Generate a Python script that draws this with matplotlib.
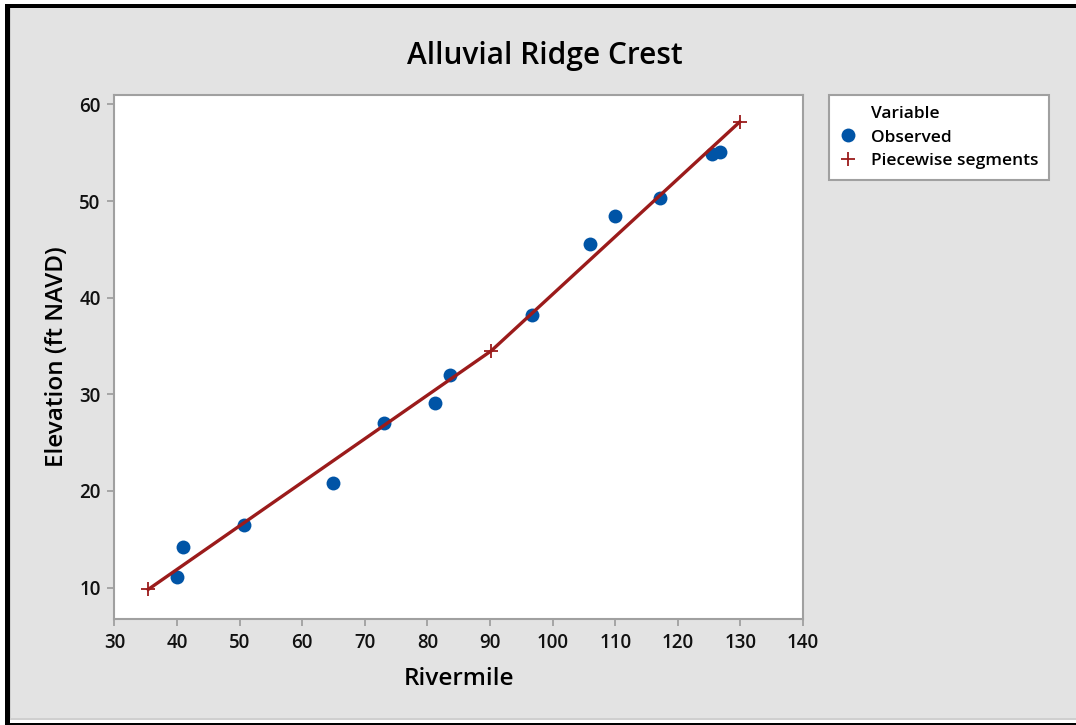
import matplotlib
matplotlib.use("Agg")
import matplotlib.pyplot as plt
from matplotlib.lines import Line2D
from matplotlib.patches import Rectangle

plt.rcParams['font.family'] = ['Open Sans', 'DejaVu Sans']

# observed ridge crest elevations
rivermile = [40.0, 40.9, 50.7, 64.9, 73.0, 81.2, 83.6, 96.7, 105.9, 110.0, 117.2, 125.5, 126.7]
elevation = [11.1, 14.2, 16.5, 20.8, 27.0, 29.1, 32.0, 38.2, 45.6, 48.5, 50.3, 54.9, 55.1]

# piecewise segment break points
seg_mile = [35.4, 90.2, 129.9]
seg_elev = [9.8, 34.5, 58.2]

xticks = [30, 40, 50, 60, 70, 80, 90, 100, 110, 120, 130, 140]
yticks = [10, 20, 30, 40, 50, 60]

W, H = 1076, 725
fig = plt.figure(figsize=(W / 100, H / 100), dpi=100, facecolor="white")


def px_rect(x0, y0, x1, y1, color):
    # rectangle given in image pixels (y down)
    r = Rectangle((x0 / W, 1 - y1 / H), (x1 - x0) / W, (y1 - y0) / H,
                  transform=fig.transFigure, facecolor=color, edgecolor="none", zorder=-10)
    fig.patches.append(r)


px_rect(5, 4, W, H, "black")
px_rect(10, 7.5, W, 722.5, "white")
px_rect(10, 7.5, W, 719.5, "#cfcfcf")
px_rect(11, 7.5, W, 717.5, "#e3e3e3")

ax = fig.add_axes([114.4 / W, 1 - 619 / H, (803 - 114.4) / W, (619 - 95) / H])
ax.set_facecolor("white")
for s in ax.spines.values():
    s.set_color("#a0a0a0")
    s.set_linewidth(1.5)

ax.plot(rivermile, elevation, "o", color="#0054a6", markersize=10, markeredgewidth=0, zorder=3)
ax.plot(seg_mile, seg_elev, "-", color="#9b1b1b", lw=2.4, zorder=4)
ax.plot(seg_mile, seg_elev, "+", color="#9b1b1b", markersize=10, markeredgewidth=1.3, zorder=4)

ax.set_xlim(30, 140)
ax.set_ylim(6.74, 60.98)
ax.set_xticks(xticks)
ax.set_yticks(yticks)
ax.tick_params(direction="out", length=5, width=1.3, color="#a0a0a0",
               labelsize=13.5, labelcolor="#111111", pad=5)
for lab in ax.get_xticklabels() + ax.get_yticklabels():
    lab.set_fontweight("semibold")

ax.set_xlabel("Rivermile", fontsize=17.5, fontweight="semibold", labelpad=10)
ax.set_ylabel("Elevation (ft NAVD)", fontsize=17.5, fontweight="semibold", labelpad=7)
fig.text(545 / W, 1 - 56 / H, "Alluvial Ridge Crest", fontsize=21.5, fontweight="semibold",
         ha="center", va="center")

handles = [
    Line2D([], [], linestyle="none"),
    Line2D([], [], marker="o", linestyle="none", color="#0054a6", markersize=10, markeredgewidth=0),
    Line2D([], [], marker="+", linestyle="none", color="#9b1b1b", markersize=10, markeredgewidth=1.3),
]
labels = ["Variable", "Observed", "Piecewise segments"]
leg = fig.legend(handles, labels, loc="upper left", bbox_to_anchor=(829 / W, 1 - 95 / H),
                 fancybox=False, frameon=True, framealpha=1, handlelength=1.0,
                 handletextpad=0.8, borderpad=0.6, labelspacing=0.45, borderaxespad=0,
                 prop={"size": 12.5, "weight": "semibold"})
leg.get_frame().set_edgecolor("#a0a0a0")
leg.get_frame().set_linewidth(1.5)
leg.get_frame().set_facecolor("white")

fig.savefig("out.png", dpi=100, facecolor=fig.get_facecolor())
